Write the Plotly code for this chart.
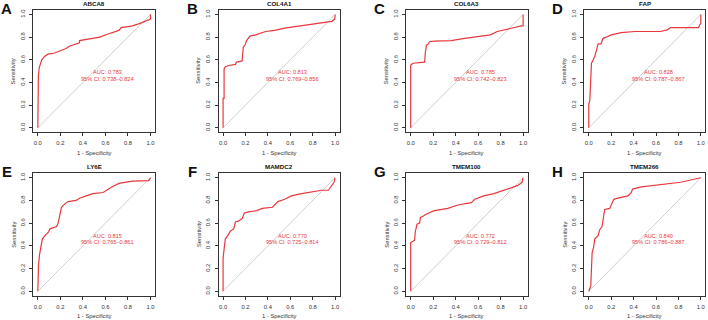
import plotly.graph_objects as go

W, H = 708, 320

genes = ["ABCA8", "COL4A1", "COL6A3", "FAP", "LY6E", "MAMDC2", "TMEM100", "TMEM266"]
letters = ["A", "B", "C", "D", "E", "F", "G", "H"]
auc_labels = ["AUC: 0.783", "AUC: 0.813", "AUC: 0.785", "AUC: 0.828",
              "AUC: 0.815", "AUC: 0.770", "AUC: 0.772", "AUC: 0.840"]
ci_labels = ["95% CI: 0.738\u20130.824", "95% CI: 0.769\u20130.856", "95% CI: 0.742\u20130.823",
             "95% CI: 0.787\u20130.867", "95% CI: 0.765\u20130.861", "95% CI: 0.725\u20130.814",
             "95% CI: 0.729\u20130.812", "95% CI: 0.786\u20130.887"]

# ROC curves (1 - specificity, sensitivity)
fpr_abca8 = [0, 0, 0.005, 0.012, 0.02, 0.035, 0.06, 0.09, 0.15, 0.2, 0.25, 0.28, 0.34, 0.37, 0.37,
             0.49, 0.55, 0.63, 0.72, 0.74, 0.84, 0.9, 0.96, 0.99, 1, 1]
tpr_abca8 = [0, 0.2, 0.45, 0.53, 0.56, 0.6, 0.63, 0.65, 0.66, 0.68, 0.7, 0.72, 0.74, 0.75, 0.77,
             0.79, 0.8, 0.83, 0.86, 0.885, 0.9, 0.92, 0.94, 0.95, 0.96, 1]

fpr_col4a1 = [0, 0, 0.009, 0.009, 0.02, 0.05, 0.11, 0.12, 0.17, 0.175, 0.18, 0.2, 0.21, 0.24, 0.29,
              0.38, 0.46, 0.55, 0.70, 0.82, 0.91, 0.97, 0.997, 1]
tpr_col4a1 = [0, 0.26, 0.26, 0.52, 0.54, 0.55, 0.56, 0.58, 0.59, 0.63, 0.71, 0.74, 0.77, 0.81, 0.82,
              0.85, 0.86, 0.88, 0.90, 0.915, 0.93, 0.94, 0.96, 1]

fpr_col6a3 = [0, 0, 0.02, 0.066, 0.124, 0.13, 0.14, 0.155, 0.168, 0.21, 0.36, 0.48, 0.57, 0.65,
              0.71, 0.77, 0.89, 0.95, 0.985, 1, 1]
tpr_col6a3 = [0, 0.553, 0.57, 0.575, 0.58, 0.66, 0.73, 0.74, 0.76, 0.765, 0.77, 0.79, 0.80, 0.81,
              0.82, 0.85, 0.88, 0.89, 0.9, 0.9, 1]

fpr_fap = [0, 0, 0.009, 0.015, 0.024, 0.04, 0.053, 0.07, 0.083, 0.11, 0.127, 0.156, 0.2, 0.29,
           0.41, 0.64, 0.7, 0.73, 0.98, 0.99, 1, 1]
tpr_fap = [0, 0.21, 0.24, 0.42, 0.57, 0.60, 0.63, 0.69, 0.74, 0.74, 0.79, 0.80, 0.82, 0.84,
           0.85, 0.85, 0.865, 0.885, 0.885, 0.91, 0.92, 1]

fpr_ly6e = [0, 0.006, 0.015, 0.026, 0.04, 0.064, 0.094, 0.108, 0.137, 0.167, 0.18, 0.196, 0.21,
            0.24, 0.27, 0.34, 0.37, 0.43, 0.49, 0.58, 0.61, 0.66, 0.72, 0.84, 0.985, 1]
tpr_ly6e = [0, 0.23, 0.32, 0.38, 0.46, 0.49, 0.52, 0.55, 0.56, 0.57, 0.6, 0.67, 0.74,
            0.77, 0.79, 0.8, 0.82, 0.84, 0.86, 0.87, 0.89, 0.92, 0.95, 0.97, 0.975, 1]

fpr_mamdc2 = [0, 0, 0.009, 0.02, 0.041, 0.065, 0.095, 0.11, 0.14, 0.17, 0.19, 0.23, 0.30, 0.35,
              0.44, 0.49, 0.55, 0.61, 0.70, 0.76, 0.88, 0.94, 0.97, 0.99, 1]
tpr_mamdc2 = [0, 0.29, 0.37, 0.46, 0.49, 0.53, 0.55, 0.61, 0.62, 0.64, 0.69, 0.70, 0.71, 0.73,
              0.74, 0.79, 0.81, 0.84, 0.86, 0.87, 0.89, 0.89, 0.93, 0.96, 1]

fpr_tmem100 = [0, 0, 0.02, 0.035, 0.04, 0.056, 0.08, 0.086, 0.11, 0.14, 0.21, 0.33, 0.42, 0.54,
               0.57, 0.65, 0.74, 0.83, 0.95, 0.99, 1]
tpr_tmem100 = [0, 0.43, 0.44, 0.45, 0.52, 0.59, 0.6, 0.65, 0.66, 0.68, 0.71, 0.73, 0.76, 0.78,
               0.81, 0.84, 0.86, 0.89, 0.93, 0.96, 1]

fpr_tmem266 = [0, 0.009, 0.018, 0.024, 0.03, 0.044, 0.053, 0.083, 0.097, 0.118, 0.127, 0.142,
               0.186, 0.2, 0.224, 0.26, 0.35, 0.38, 0.39, 0.47, 0.64, 0.82, 1]
tpr_tmem266 = [0, 0.02, 0.05, 0.2, 0.34, 0.39, 0.46, 0.49, 0.54, 0.57, 0.64, 0.72,
               0.73, 0.76, 0.81, 0.82, 0.84, 0.87, 0.9, 0.92, 0.94, 0.96, 1]

curves = [(fpr_abca8, tpr_abca8), (fpr_col4a1, tpr_col4a1), (fpr_col6a3, tpr_col6a3),
          (fpr_fap, tpr_fap), (fpr_ly6e, tpr_ly6e), (fpr_mamdc2, tpr_mamdc2),
          (fpr_tmem100, tpr_tmem100), (fpr_tmem266, tpr_tmem266)]

tick_vals = [0, 0.2, 0.4, 0.6, 0.8, 1.0]
tick_text = ["0.0", "0.2", "0.4", "0.6", "0.8", "1.0"]

RED = "#E8383D"
FONT = "Liberation Sans, Arial, sans-serif"

# pixel boxes of each panel (left, right) and rows (top, bottom)
col_lr = [(33.3, 155.0), (218.6, 339.6), (406.2, 527.6), (584.3, 705.3)]
row_tb = [(10.0, 132.3), (173.2, 295.8)]

fig = go.Figure()
layout = dict(width=W, height=H, margin=dict(l=0, r=0, t=0, b=0),
              paper_bgcolor="white", plot_bgcolor="white", showlegend=False)
annotations = []

for i in range(8):
    r, c = divmod(i, 4)
    l, rr = col_lr[c]
    t, b = row_tb[r]
    sfx = "" if i == 0 else str(i + 1)
    xa, ya = "x" + sfx, "y" + sfx
    axis_common = dict(range=[-0.04, 1.04], showgrid=False, zeroline=False,
                       showline=True, mirror=True, linecolor="#333", linewidth=1,
                       ticks="outside", ticklen=3, tickwidth=1, tickcolor="#333",
                       tickvals=tick_vals, ticktext=tick_text, ticklabelstandoff=2,
                       tickfont=dict(family=FONT, size=5.8, color="#333"),
                       fixedrange=True)
    layout["xaxis" + sfx] = dict(axis_common, domain=[l / W, rr / W], anchor=ya)
    layout["yaxis" + sfx] = dict(axis_common, domain=[1 - b / H, 1 - t / H], anchor=xa,
                                 tickangle=-90)

    # diagonal
    fig.add_trace(go.Scatter(x=[0, 1], y=[0, 1], mode="lines",
                             line=dict(color="#CFCFCF", width=1),
                             xaxis=xa, yaxis=ya, hoverinfo="skip"))
    fx, ty = curves[i]
    fig.add_trace(go.Scatter(x=fx, y=ty, mode="lines",
                             line=dict(color=RED, width=1.2),
                             xaxis=xa, yaxis=ya))

    cx = (l + rr) / 2
    # title
    annotations.append(dict(text="<b>" + genes[i] + "</b>", x=cx / W, y=1 - (t - 6.5) / H,
                            xref="paper", yref="paper", showarrow=False,
                            xanchor="center", yanchor="middle",
                            font=dict(family=FONT, size=6.2, color="#111")))
    # panel letter
    annotations.append(dict(text="<b>" + letters[i] + "</b>", x=(l - 26.5) / W, y=1 - (t - 2) / H,
                            xref="paper", yref="paper", showarrow=False,
                            xanchor="center", yanchor="middle",
                            font=dict(family=FONT, size=15, color="#111")))
    # axis titles
    annotations.append(dict(text="1 - Specificity", x=cx / W, y=1 - (b + 20.4) / H,
                            xref="paper", yref="paper", showarrow=False,
                            xanchor="center", yanchor="middle",
                            font=dict(family=FONT, size=5.8, color="#333")))
    annotations.append(dict(text="Sensitivity", x=(l - 20) / W, y=1 - ((t + b) / 2) / H,
                            xref="paper", yref="paper", showarrow=False, textangle=-90,
                            xanchor="center", yanchor="middle",
                            font=dict(family=FONT, size=5.8, color="#333")))
    # AUC text
    annotations.append(dict(text=auc_labels[i], x=0.62, y=0.49, xref=xa, yref=ya,
                            showarrow=False, xanchor="center", yanchor="middle",
                            font=dict(family=FONT, size=5.6, color=RED)))
    annotations.append(dict(text=ci_labels[i], x=0.62, y=0.43, xref=xa, yref=ya,
                            showarrow=False, xanchor="center", yanchor="middle",
                            font=dict(family=FONT, size=5.6, color=RED)))

layout["annotations"] = annotations
fig.update_layout(**layout)
fig.write_html("out.html", config={"displayModeBar": False},
               post_script="document.body.style.margin='0';document.body.style.overflow='hidden';")
